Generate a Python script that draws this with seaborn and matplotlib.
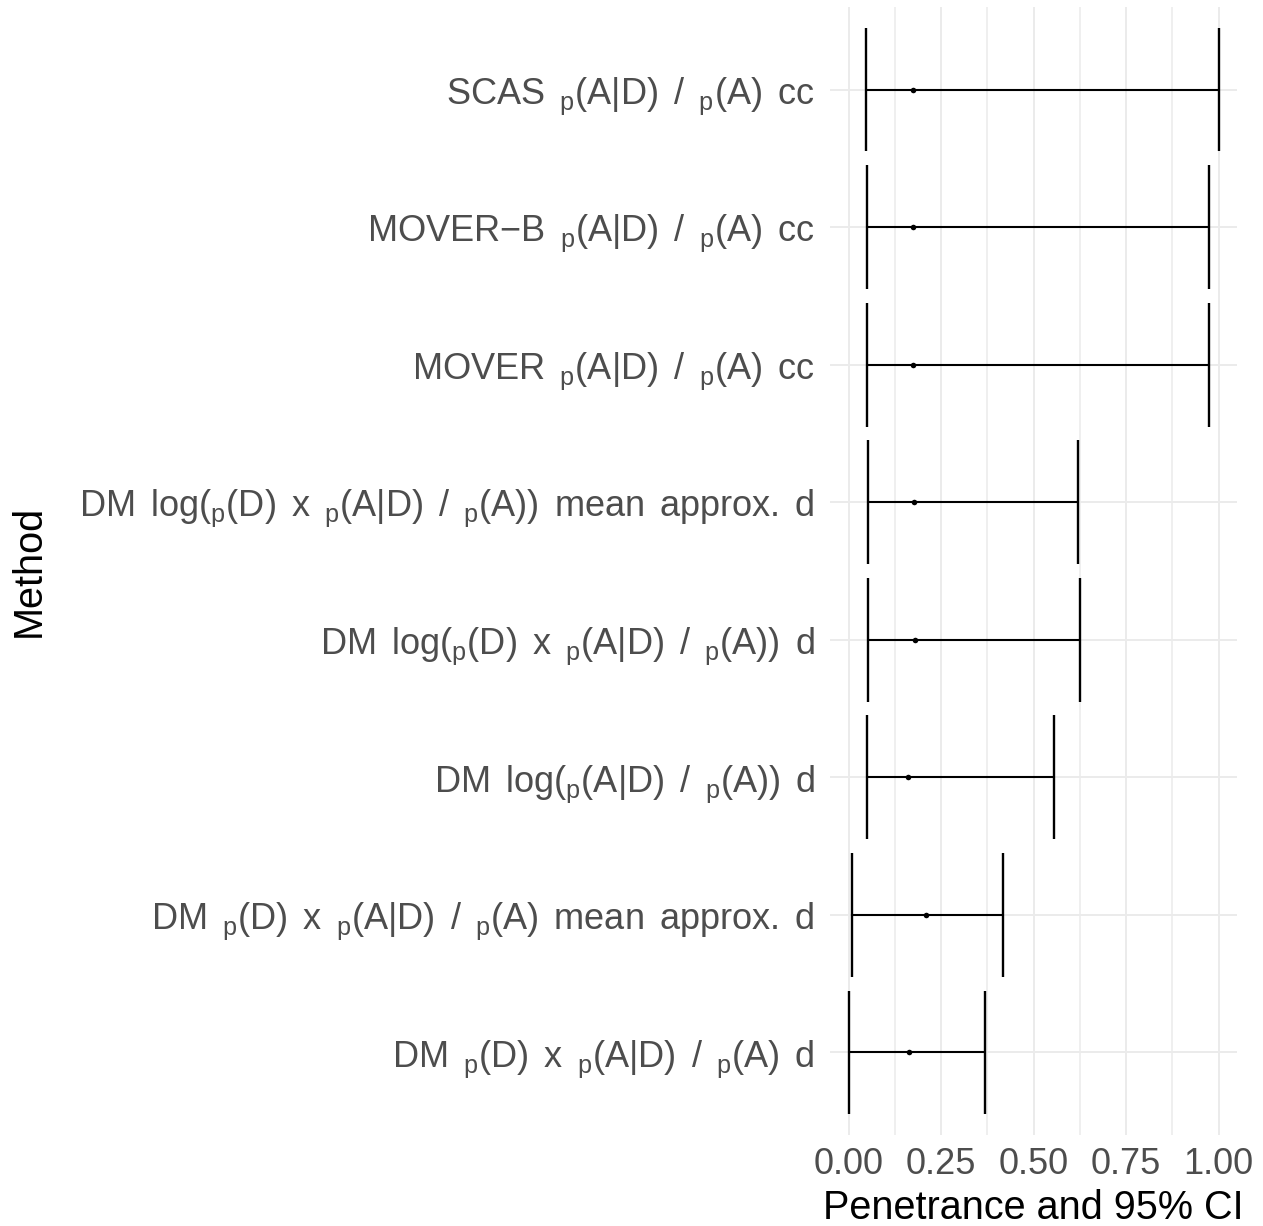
import numpy as np
import pandas as pd
import matplotlib
matplotlib.use("Agg")
import matplotlib.pyplot as plt
import seaborn as sns
from matplotlib.ticker import MultipleLocator

# categories from bottom to top ("_p" marks a subscript p)
methods = [
    "DM _p(D) x _p(A|D) / _p(A) d",
    "DM _p(D) x _p(A|D) / _p(A) mean approx. d",
    "DM log(_p(A|D) / _p(A)) d",
    "DM log(_p(D) x _p(A|D) / _p(A)) d",
    "DM log(_p(D) x _p(A|D) / _p(A)) mean approx. d",
    "MOVER _p(A|D) / _p(A) cc",
    "MOVER−B _p(A|D) / _p(A) cc",
    "SCAS _p(A|D) / _p(A) cc",
]
estimate = [0.163, 0.210, 0.161, 0.181, 0.178, 0.174, 0.174, 0.174]
lower = [0.000, 0.010, 0.049, 0.054, 0.052, 0.049, 0.049, 0.046]
upper = [0.370, 0.417, 0.555, 0.627, 0.620, 0.975, 0.975, 1.000]
xticks = [0.00, 0.25, 0.50, 0.75, 1.00]
xticklabels = ["0.00", "0.25", "0.50", "0.75", "1.00"]


def to_mathtext(s):
    s = s.replace(" ", r" $\,$")
    return s.replace("_p", r"$_{\mathrm{p}}$")


df = pd.DataFrame({"Method": methods, "est": estimate, "lo": lower, "hi": upper})
df["label"] = df["Method"].map(to_mathtext)

sns.set_theme(style="white")
plt.rcParams["font.family"] = ["Liberation Sans", "DejaVu Sans"]
plt.rcParams["mathtext.fontset"] = "custom"
plt.rcParams["mathtext.rm"] = "Liberation Sans"
plt.rcParams["mathtext.it"] = "Liberation Sans:italic"
plt.rcParams["mathtext.bf"] = "Liberation Sans:bold"

W, H = 1263, 1226
L, R, T, B = 830, 1237, 7, 1135
fig = plt.figure(figsize=(W / 100, H / 100), dpi=100)
ax = fig.add_axes([L / W, 1 - B / H, (R - L) / W, (B - T) / H])

pos = np.arange(len(df))
ax.hlines(pos, df["lo"], df["hi"], color="black", linewidth=1.5, zorder=3)
ax.vlines(df["lo"], pos - 0.45, pos + 0.45, color="black", linewidth=1.7, zorder=3)
ax.vlines(df["hi"], pos - 0.45, pos + 0.45, color="black", linewidth=1.7, zorder=3)
sns.scatterplot(x=df["est"], y=pos, ax=ax, color="black", s=16, linewidth=0, zorder=4)

ax.set_xlim(-0.05, 1.05)
ax.set_ylim(-0.6, len(df) - 0.4)
ax.set_yticks(pos)
ax.set_yticklabels(df["label"])
ax.set_xticks(xticks)
ax.set_xticklabels(xticklabels)
ax.xaxis.set_minor_locator(MultipleLocator(0.125))

for s in ax.spines.values():
    s.set_visible(False)
ax.grid(True, which="major", axis="both", color="#EBEBEB", linewidth=1.4, zorder=0)
ax.grid(True, which="minor", axis="x", color="#EBEBEB", linewidth=1.1, zorder=0)
ax.set_axisbelow(True)
ax.tick_params(axis="both", which="both", length=0, labelsize=26, labelcolor="#4D4D4D")
ax.tick_params(axis="y", pad=11)
ax.tick_params(axis="x", pad=9)

ax.set_xlabel("Penetrance and 95% CI", fontsize=28.5, color="black", labelpad=4.5)
ax.set_ylabel("Method", fontsize=28.5, color="black")
ax.yaxis.set_label_coords((48 - L) / (R - L), 0.5)

fig.savefig("out.png", dpi=100)
